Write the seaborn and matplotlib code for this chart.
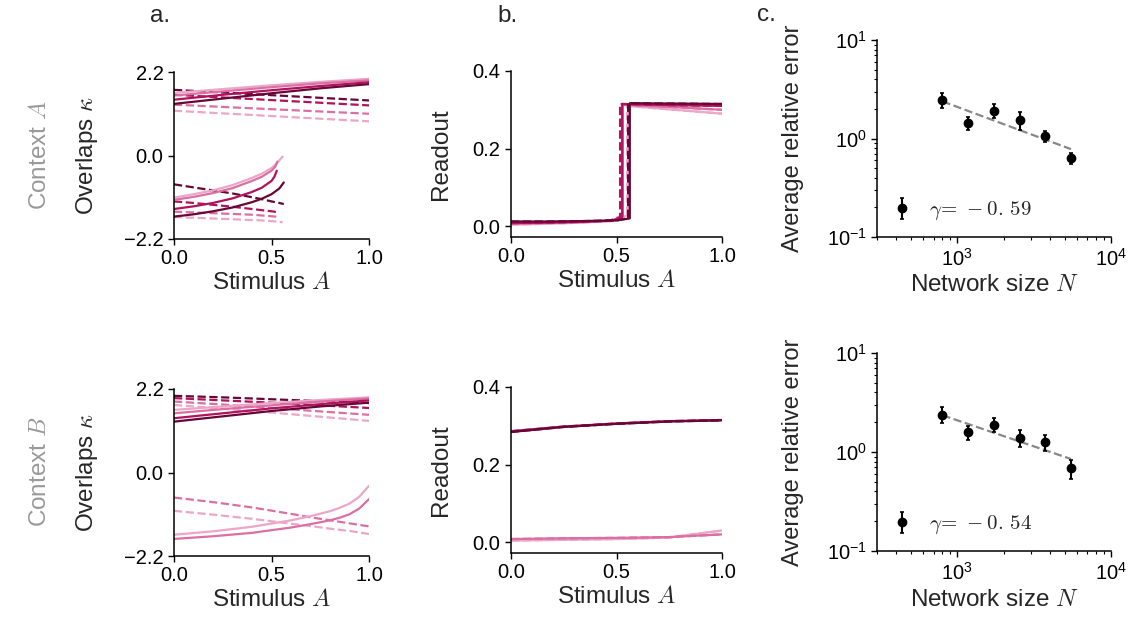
import numpy as np
import pandas as pd
import matplotlib
matplotlib.use("Agg")
import matplotlib.pyplot as plt
import matplotlib.ticker as mticker
import seaborn as sns

sns.set_theme(style="ticks")
plt.rcParams["font.family"] = ["Liberation Sans", "DejaVu Sans"]
plt.rcParams["mathtext.fontset"] = "cm"
plt.rcParams["axes.linewidth"] = 1.1
plt.rcParams["xtick.major.width"] = 1.0
plt.rcParams["ytick.major.width"] = 1.0
plt.rcParams["xtick.minor.width"] = 0.8
plt.rcParams["ytick.minor.width"] = 0.8
plt.rcParams["xtick.major.size"] = 4
plt.rcParams["ytick.major.size"] = 4
plt.rcParams["xtick.minor.size"] = 2.5
plt.rcParams["ytick.minor.size"] = 2.5
plt.rcParams["axes.edgecolor"] = "black"
plt.rcParams["xtick.color"] = "black"
plt.rcParams["ytick.color"] = "black"

# ---------------- data ----------------
shades = ["light", "pink", "crimson", "dark"]
colors = {"light": "#eba6c8", "pink": "#db6fa4", "crimson": "#b0125c", "dark": "#680638"}

x_up = [0.0, 0.25, 0.5, 0.75, 1.0]
# Context A, upper branch
A_up_solid = {"light": [1.65, 1.75, 1.85, 1.94, 2.02], "pink": [1.58, 1.69, 1.80, 1.90, 1.98],
              "crimson": [1.47, 1.60, 1.72, 1.83, 1.93], "dark": [1.36, 1.50, 1.64, 1.77, 1.88]}
A_up_dash = {"light": [1.18, 1.11, 1.04, 0.97, 0.90], "pink": [1.34, 1.28, 1.22, 1.16, 1.10],
             "crimson": [1.60, 1.53, 1.46, 1.39, 1.32], "dark": [1.73, 1.66, 1.59, 1.52, 1.45]}
# Context A, lower branch (ends where the state disappears)
A_lo_x = {"light": [0.0, 0.1, 0.2, 0.3, 0.4, 0.45, 0.5, 0.53, 0.557],
          "pink": [0.0, 0.1, 0.2, 0.3, 0.4, 0.45, 0.5, 0.52, 0.53],
          "crimson": [0.0, 0.1, 0.2, 0.3, 0.4, 0.45, 0.5, 0.515, 0.527],
          "dark": [0.0, 0.1, 0.2, 0.3, 0.4, 0.45, 0.5, 0.54, 0.563]}
A_lo_solid = {"light": [-1.11, -1.02, -0.92, -0.78, -0.59, -0.48, -0.33, -0.19, -0.03],
              "pink": [-1.17, -1.09, -0.99, -0.86, -0.67, -0.56, -0.40, -0.29, -0.16],
              "crimson": [-1.41, -1.34, -1.25, -1.13, -0.96, -0.85, -0.67, -0.56, -0.40],
              "dark": [-1.61, -1.55, -1.47, -1.37, -1.23, -1.14, -1.02, -0.87, -0.71]}
A_lo_dash = {"light": [-1.62, -1.64, -1.66, -1.68, -1.70, -1.71, -1.73, -1.74, -1.76],
             "pink": [-1.48, -1.50, -1.52, -1.54, -1.56, -1.58, -1.60, -1.61, -1.62],
             "crimson": [-1.21, -1.25, -1.30, -1.35, -1.41, -1.44, -1.47, -1.48, -1.50],
             "dark": [-0.76, -0.84, -0.92, -1.00, -1.10, -1.15, -1.21, -1.25, -1.28]}
# Context B, upper branch
B_up_solid = {"light": [1.65, 1.74, 1.83, 1.91, 1.98], "pink": [1.56, 1.67, 1.77, 1.87, 1.95],
              "crimson": [1.43, 1.56, 1.69, 1.80, 1.90], "dark": [1.34, 1.48, 1.62, 1.74, 1.84]}
B_up_dash = {"light": [1.78, 1.68, 1.58, 1.47, 1.36], "pink": [1.87, 1.79, 1.70, 1.61, 1.52],
             "crimson": [1.96, 1.90, 1.84, 1.77, 1.70], "dark": [2.02, 1.98, 1.93, 1.88, 1.83]}
# Context B, lower branch (only two shades)
x_B_lo = [0.0, 0.2, 0.4, 0.6, 0.7, 0.8, 0.85, 0.9, 0.95, 1.0]
B_lo_solid = {"light": [-1.64, -1.55, -1.43, -1.26, -1.15, -1.02, -0.93, -0.82, -0.64, -0.35],
              "pink": [-1.75, -1.68, -1.59, -1.45, -1.36, -1.26, -1.19, -1.10, -0.95, -0.70]}
B_lo_dash = {"light": [-1.01, -1.11, -1.22, -1.35, -1.41, -1.48, -1.51, -1.54, -1.58, -1.62],
             "pink": [-0.66, -0.78, -0.92, -1.09, -1.18, -1.26, -1.30, -1.34, -1.38, -1.42]}

# Readout, context A (low state, then jump to high state)
rA_x_jump_solid = {"light": 0.557, "pink": 0.53, "crimson": 0.527, "dark": 0.563}
rA_x_jump_dash = {"light": 0.55, "pink": 0.52, "crimson": 0.517, "dark": 0.555}
rA_low = {"light": [0.004, 0.006, 0.009, 0.014, 0.030], "pink": [0.006, 0.008, 0.010, 0.014, 0.026],
          "crimson": [0.008, 0.009, 0.011, 0.014, 0.022], "dark": [0.012, 0.012, 0.013, 0.015, 0.020]}
rA_high = {"light": [0.310, 0.300, 0.290], "pink": [0.313, 0.307, 0.300],
           "crimson": [0.315, 0.312, 0.310], "dark": [0.317, 0.316, 0.315]}
# Readout, context B
x_rB = [0.0, 0.25, 0.5, 0.75, 1.0]
rB = {"light": [0.004, 0.006, 0.008, 0.012, 0.030], "pink": [0.008, 0.010, 0.011, 0.013, 0.020],
      "crimson": [0.286, 0.298, 0.306, 0.312, 0.315], "dark": [0.284, 0.297, 0.305, 0.311, 0.314]}

# Panel c: scaling of error with network size
N_vals = [800, 1175, 1730, 2540, 3730, 5490]
errA = [2.45, 1.44, 1.92, 1.55, 1.06, 0.64]
errA_lo = [2.05, 1.21, 1.62, 1.22, 0.92, 0.55]
errA_hi = [2.90, 1.66, 2.23, 1.86, 1.20, 0.72]
fitA = [2.38, 0.78]
gammaA = "-0.\\,59"
errB = [2.38, 1.59, 1.88, 1.37, 1.25, 0.69]
errB_lo = [1.95, 1.32, 1.58, 1.12, 1.03, 0.53]
errB_hi = [2.85, 1.85, 2.20, 1.65, 1.50, 0.83]
fitB = [2.35, 0.85]
gammaB = "-0.\\,54"

TICK = 14.5
LAB = 17.5

fig = plt.figure(figsize=(11.32, 6.32), dpi=100)
W, H = 1132, 632


def add_ax(x0, x1, y0, y1):
    return fig.add_axes([x0 / W, 1 - y1 / H, (x1 - x0) / W, (y1 - y0) / H])


axA1 = add_ax(174, 369, 72, 239)
axA2 = add_ax(174, 369, 389, 556)
axB1 = add_ax(511, 722, 71, 237)
axB2 = add_ax(511, 722, 387, 553)
axC1 = add_ax(877, 1111, 40, 237)
axC2 = add_ax(877, 1111, 353, 551)


def line(ax, x, y, c, ls="-"):
    df = pd.DataFrame({"x": x, "y": y})
    sns.lineplot(data=df, x="x", y="y", ax=ax, color=c, linestyle=ls, lw=1.6,
                 estimator=None, sort=False, legend=False)


# Overlaps panels
for s in shades:
    c = colors[s]
    line(axA1, x_up, A_up_dash[s], c, "--")
    line(axA1, A_lo_x[s], A_lo_dash[s], c, "--")
for s in shades:
    c = colors[s]
    line(axA1, x_up, A_up_solid[s], c)
    line(axA1, A_lo_x[s], A_lo_solid[s], c)

for s in shades:
    line(axA2, x_up, B_up_dash[s], colors[s], "--")
for s in ["light", "pink"]:
    line(axA2, x_B_lo, B_lo_dash[s], colors[s], "--")
for s in shades:
    line(axA2, x_up, B_up_solid[s], colors[s])
for s in ["light", "pink"]:
    line(axA2, x_B_lo, B_lo_solid[s], colors[s])

# Readout panels
for s in shades:
    for jd, ls in ((rA_x_jump_solid, "-"), (rA_x_jump_dash, "--")):
        xj = jd[s]
        xs = [0.0, xj * 0.3, xj * 0.6, xj * 0.9, xj, xj, (xj + 1) / 2, 1.0]
        ys = rA_low[s] + rA_high[s]
        line(axB1, xs, ys, colors[s], ls)
for s in shades:
    line(axB2, x_rB, rB[s], colors[s], "--")
    line(axB2, x_rB, rB[s], colors[s], "-")

for ax in (axA1, axA2):
    ax.set_xlim(0, 1)
    ax.set_ylim(-2.2, 2.2)
    ax.set_yticks([-2.2, 0.0, 2.2])
    ax.set_yticklabels(["\u22122.2", "0.0", "2.2"])
    ax.set_ylabel(r"Overlaps $\kappa$", fontsize=LAB)
    ax.yaxis.set_label_coords(-0.38, 0.5)
for ax in (axB1, axB2):
    ax.set_xlim(0, 1)
    ax.set_ylim(-0.028, 0.4)
    ax.set_yticks([0.0, 0.2, 0.4])
    ax.set_ylabel("Readout", fontsize=LAB)
    ax.yaxis.set_label_coords(-0.28, 0.5)
for ax in (axA1, axA2, axB1, axB2):
    ax.set_xticks([0.0, 0.5, 1.0])
    ax.set_xlabel(r"Stimulus $A$", fontsize=LAB)
    ax.xaxis.set_label_coords(0.5, -0.2)
    ax.tick_params(labelsize=TICK)
    sns.despine(ax=ax)

# Panel c
for ax, e, lo, hi, fit, g in ((axC1, errA, errA_lo, errA_hi, fitA, gammaA),
                              (axC2, errB, errB_lo, errB_hi, fitB, gammaB)):
    e = np.array(e)
    yerr = np.vstack([e - np.array(lo), np.array(hi) - e])
    h = ax.errorbar(N_vals, e, yerr=yerr, fmt="o", color="black", ms=6, capsize=1.5,
                    elinewidth=1.5, capthick=1.2, zorder=3)
    line(ax, [N_vals[0], N_vals[-1]], fit, "#888888", "--")
    ax.set_xscale("log")
    ax.set_yscale("log")
    ax.set_xlim(300, 1e4)
    ax.set_ylim(0.1, 10)
    ax.xaxis.set_major_locator(mticker.FixedLocator([1e3, 1e4]))
    ax.xaxis.set_major_formatter(mticker.FixedFormatter([r"$\mathregular{10^{3}}$", r"$\mathregular{10^{4}}$"]))
    ax.xaxis.set_minor_locator(mticker.LogLocator(base=10, subs=np.arange(2, 10), numticks=20))
    ax.xaxis.set_minor_formatter(mticker.NullFormatter())
    ax.yaxis.set_major_locator(mticker.FixedLocator([0.1, 1, 10]))
    ax.yaxis.set_major_formatter(mticker.FixedFormatter([r"$\mathregular{10^{-1}}$", r"$\mathregular{10^{0}}$", r"$\mathregular{10^{1}}$"]))
    ax.yaxis.set_minor_locator(mticker.LogLocator(base=10, subs=np.arange(2, 10), numticks=20))
    ax.yaxis.set_minor_formatter(mticker.NullFormatter())
    ax.tick_params(labelsize=TICK)
    ax.set_xlabel(r"Network size $N$", fontsize=LAB)
    ax.xaxis.set_label_coords(0.5, -0.19)
    ax.set_ylabel("Average relative error", fontsize=17)
    ax.yaxis.set_label_coords(-0.31, 0.5)
    ax.legend([h], [r"$\gamma\!=\,%s$" % g], loc="lower left", frameon=False,
              fontsize=15, handlelength=1.0, handletextpad=0.8, borderaxespad=0.3)
    sns.despine(ax=ax)

# Panel letters and row labels
fig.text(150 / W, 1 - 16 / H, "a.", fontsize=LAB, va="center", ha="left")
fig.text(497 / W, 1 - 16 / H, "b.", fontsize=LAB, va="center", ha="left")
fig.text(757 / W, 1 - 15 / H, "c.", fontsize=LAB, va="center", ha="left")
fig.text(40 / W, 1 - 155 / H, r"Context $A$", fontsize=LAB, color="#999999", rotation=90,
         va="center", ha="center")
fig.text(40 / W, 1 - 472 / H, r"Context $B$", fontsize=LAB, color="#999999", rotation=90,
         va="center", ha="center")

fig.savefig("out.png", dpi=100)
